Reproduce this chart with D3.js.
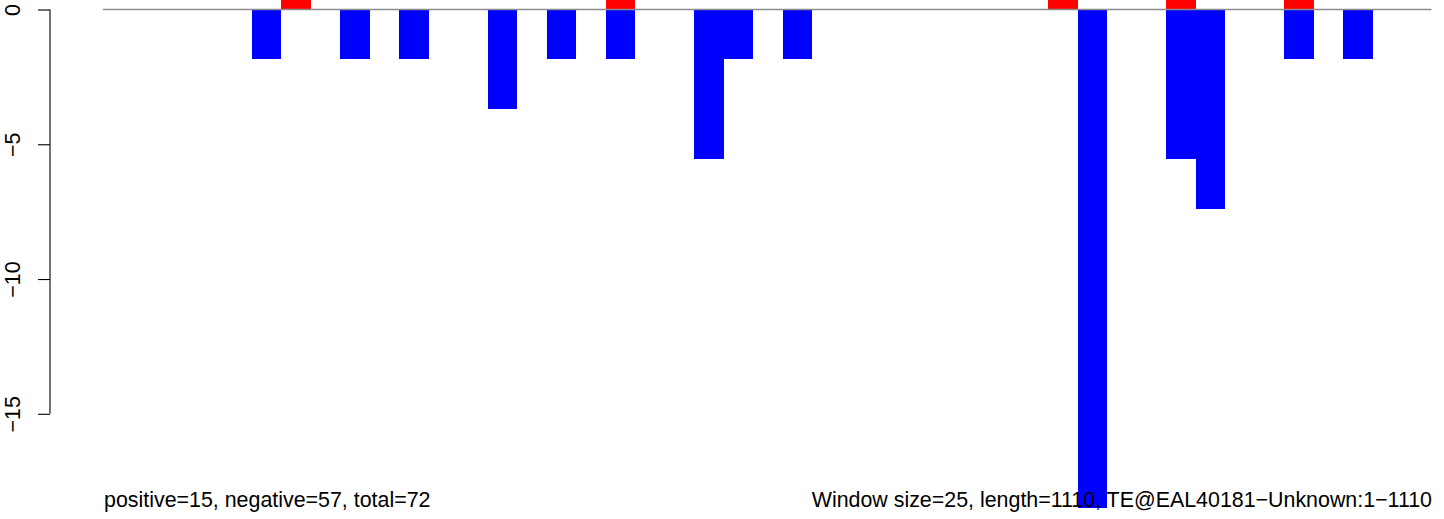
<!DOCTYPE html>
<html>
<head>
<meta charset="utf-8">
<script src="https://cdn.jsdelivr.net/npm/d3@7"></script>
<style>
  html, body { margin: 0; padding: 0; background: #fff; }
  svg { display: block; }
  text { font-family: "Liberation Sans", Arial, Helvetica, sans-serif; }
</style>
</head>
<body>
<script>
// window layout
const windowSize = 25;
const seqLength = 1110;
const windowCount = 45;

// windows (start bp) with negative / positive scores
const negStarts = [125, 200, 250, 325, 375, 425, 500, 525, 575, 825, 900, 925, 1000, 1050];
const negValues = [-1.85, -1.85, -1.85, -3.7, -1.85, -1.85, -5.55, -1.85, -1.85, -18.5, -5.55, -7.4, -1.85, -1.85];
const posStarts = [150, 425, 800, 900, 1000];
const posValues = [3.7, 3.7, 3.7, 1.85, 1.85];

const yTicks = [0, -5, -10, -15];

const footLeft = "positive=15, negative=57, total=72";
const footRight = "Window size=" + windowSize + ", length=" + seqLength + ", TE@EAL40181\u2212Unknown:1\u2212" + seqLength;

const width = 1444, height = 519;
const plotLeft = 104, plotRight = 1431.5;
const fontSize = 21.4;

let svg = d3.select("body").append("svg")
    .attr("width", width)
    .attr("height", height);

let x = d3.scaleLinear()
    .domain([0, windowCount * windowSize])
    .range([plotLeft, plotRight]);

let y = d3.scaleLinear()
    .domain([0, -15])
    .range([9.5, 413.8]);

// bars
let bars = negStarts.map((s, i) => ({ start: s, value: negValues[i], color: "#0000ff" }))
    .concat(posStarts.map((s, i) => ({ start: s, value: posValues[i], color: "#ff0000" })));

svg.append("g")
    .selectAll("rect")
    .data(bars)
    .enter()
    .append("rect")
    .attr("x", d => x(d.start))
    .attr("width", d => x(d.start + windowSize) - x(d.start))
    .attr("y", d => Math.min(y(0), y(d.value)))
    .attr("height", d => Math.abs(y(d.value) - y(0)))
    .attr("fill", d => d.color)
    .attr("shape-rendering", "crispEdges");

// zero line
svg.append("line")
    .attr("x1", plotLeft - 1)
    .attr("x2", plotRight)
    .attr("y1", y(0))
    .attr("y2", y(0))
    .attr("stroke", "#8c8c8c")
    .attr("stroke-width", 1.3);

// y axis (R style, rotated labels)
let axis = svg.append("g")
    .attr("transform", "translate(50,0)")
    .call(d3.axisLeft(y).tickValues(yTicks).tickSize(12).tickPadding(0).tickFormat(d3.format("d")));

axis.select(".domain")
    .attr("d", "M0," + y(0) + "V" + y(-15))
    .attr("stroke", "#000")
    .attr("stroke-width", 1.1);
axis.selectAll(".tick line").attr("stroke", "#000").attr("stroke-width", 1.1);
axis.selectAll(".tick text")
    .attr("x", null).attr("dy", null)
    .attr("transform", "translate(-30,0) rotate(-90)")
    .attr("text-anchor", "middle")
    .attr("fill", "#000")
    .style("font-size", fontSize + "px")
    .style("font-family", "'Liberation Sans', Arial, sans-serif")
    .text(d => d < 0 ? "\u2212" + Math.abs(d) : d);

// footer texts
svg.append("text")
    .attr("x", plotLeft)
    .attr("y", 507)
    .attr("font-size", fontSize)
    .attr("fill", "#000")
    .text(footLeft);

svg.append("text")
    .attr("x", 1432)
    .attr("y", 507)
    .attr("text-anchor", "end")
    .attr("font-size", fontSize)
    .attr("fill", "#000")
    .text(footRight);
</script>
</body>
</html>
